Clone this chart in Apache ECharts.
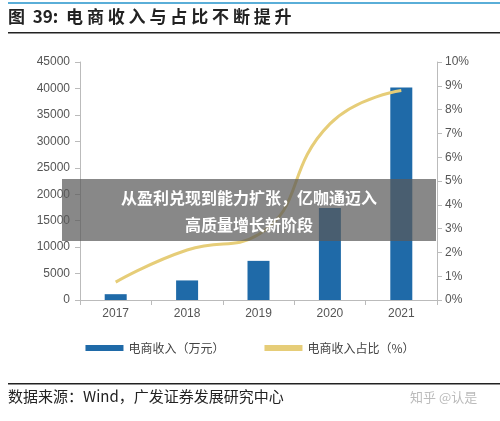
<!DOCTYPE html>
<html>
<head>
<meta charset="utf-8">
<script src="https://cdn.jsdelivr.net/npm/echarts@6/dist/echarts.min.js"></script>
<style>html,body{margin:0;padding:0;background:#fff;}#main{width:500px;height:421px;}</style>
</head>
<body>
<div id="main"></div>
<script>
var years = ["2017", "2018", "2019", "2020", "2021"];
var income = [1100, 3700, 7400, 17400, 40200];
var ratio = [0.75, 2.1, 2.75, 7.4, 8.8];
var leftTicks = [0, 45000, 5000];
var rightTicks = [0, 10, 1];

var font = "'Noto Sans CJK SC', sans-serif";
var chart = echarts.init(document.getElementById('main'));
var option = {
	animation: false,
	backgroundColor: '#fff',
	textStyle: { fontFamily: font },
	grid: { left: 80, right: 63, top: 62, bottom: 121 },
	legend: {
		bottom: 62,
		left: 'center',
		itemGap: 40,
		itemWidth: 38,
		itemHeight: 6,
		textStyle: { fontSize: 12, color: '#444', fontFamily: font },
		data: [
			{ name: '电商收入（万元）', icon: 'rect' },
			{ name: '电商收入占比（%）', icon: 'rect' }
		]
	},
	xAxis: {
		type: 'category',
		data: years,
		axisLine: { lineStyle: { color: '#bbb' } },
		axisTick: { show: true, lineStyle: { color: '#bbb' } },
		axisLabel: { color: '#555', fontSize: 12, fontFamily: 'Arial, sans-serif' }
	},
	yAxis: [{
		type: 'value',
		min: leftTicks[0], max: leftTicks[1], interval: leftTicks[2],
		axisLine: { show: true, lineStyle: { color: '#bbb' } },
		axisTick: { show: true, lineStyle: { color: '#bbb' } },
		splitLine: { show: false },
		axisLabel: { color: '#555', fontSize: 12, margin: 10, formatter: function (v) { return String(v); }, fontFamily: 'Arial, sans-serif' }
	}, {
		type: 'value',
		min: rightTicks[0], max: rightTicks[1], interval: rightTicks[2],
		axisLine: { show: true, lineStyle: { color: '#bbb' } },
		axisTick: { show: true, lineStyle: { color: '#bbb' } },
		splitLine: { show: false },
		axisLabel: { color: '#555', fontSize: 12, formatter: '{value}%', fontFamily: 'Arial, sans-serif' }
	}],
	series: [{
		name: '电商收入（万元）',
		type: 'bar',
		data: income,
		barWidth: 22,
		itemStyle: { color: '#1f6aa8' }
	}, {
		name: '电商收入占比（%）',
		type: 'line',
		yAxisIndex: 1,
		smooth: true,
		symbol: 'none',
		data: ratio,
		lineStyle: { color: '#e6cd78', width: 3 },
		itemStyle: { color: '#e6cd78' }
	}],
	graphic: [
		{ type: 'rect', shape: { x: 8, y: 2, width: 492, height: 2 }, style: { fill: '#5aaed8' } },
		{ type: 'text', left: 8, top: 8, style: { text: '图  39:  电 商 收 入 与 占 比 不 断 提 升', fill: '#222', font: 'bold 17px ' + font } },
		{ type: 'rect', shape: { x: 8, y: 32, width: 492, height: 1.5 }, style: { fill: '#222' } },
		{ type: 'rect', shape: { x: 8, y: 383, width: 492, height: 1.5 }, style: { fill: '#222' } },
		{ type: 'text', left: 8, top: 389, style: { text: '数据来源：Wind，广发证券发展研究中心', fill: '#222', font: '15px ' + font } },
		{ type: 'text', left: 410, top: 391, style: { text: '知乎 @认是', fill: '#bbb', font: '13px ' + font } },
		{ type: 'rect', z: 100, shape: { x: 62, y: 179, width: 374, height: 62 }, style: { fill: 'rgba(90,90,90,0.72)' } },
		{ type: 'text', z: 101, x: 249, y: 184, style: { text: '从盈利兑现到能力扩张，亿咖通迈入\n高质量增长新阶段', fill: '#fff', font: 'bold 16px ' + font, align: 'center', lineHeight: 27 } }
	]
};
chart.setOption(option);
</script>
</body>
</html>
